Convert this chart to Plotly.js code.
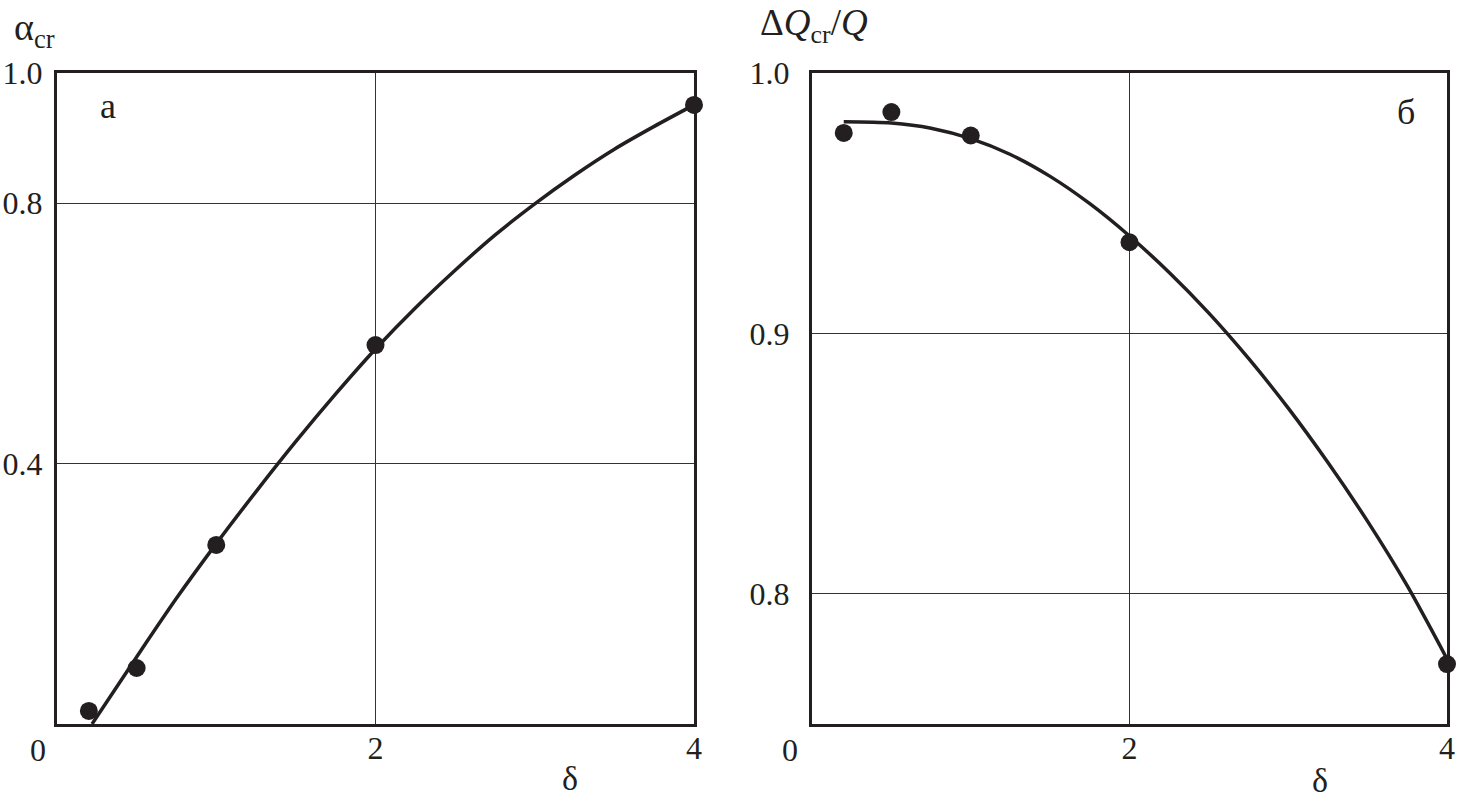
<!DOCTYPE html>
<html>
<head>
<meta charset="utf-8">
<script src="https://cdn.plot.ly/plotly-3.0.1.min.js"></script>
<style>html,body{margin:0;padding:0;background:#fff;}#chart{width:1457px;height:801px;}</style>
</head>
<body>
<div id="chart"></div>
<script>
// Measured points (δ, α_cr) and (δ, ΔQ_cr/Q)
const deltaPts = [0.2, 0.5, 1.0, 2.0, 4.0];
const alphaPts = [0.020, 0.086, 0.275, 0.582, 0.951];
const qPts = [0.977, 0.985, 0.976, 0.935, 0.773];

// Fitted curves
const alphaCurveX = [0.22, 0.5, 0.75, 1.0, 1.25, 1.5, 1.75, 2.0, 2.25, 2.5, 2.75, 3.0, 3.25, 3.5, 3.75, 4.0];
const alphaCurveY = [0.0, 0.103, 0.193, 0.277, 0.357, 0.434, 0.507, 0.576, 0.639, 0.697, 0.751, 0.799, 0.843, 0.883, 0.918, 0.951];
const qCurveX = [0.2, 0.5, 0.75, 1.0, 1.25, 1.5, 1.75, 2.0, 2.25, 2.5, 2.75, 3.0, 3.25, 3.5, 3.75, 4.0];
const qCurveY = [0.9813, 0.9808, 0.9788, 0.9748, 0.9687, 0.9603, 0.9498, 0.9374, 0.9234, 0.9078, 0.8904, 0.8713, 0.8504, 0.8278, 0.8030, 0.7750];

// Tick labels
const xTickVals = [2, 4];
const xTickText = ['2', '4'];
const leftYTickVals = [0.4, 0.8, 1.0];
const leftYTickText = ['0.4', '0.8', '1.0'];
const rightYTickVals = [0.8, 0.9, 1.0];
const rightYTickText = ['0.8', '0.9', '1.0'];

const INK = '#231f20';
const FONT = 'Liberation Serif, Times New Roman, serif';

const traces = [
  {x: alphaCurveX, y: alphaCurveY, xaxis: 'x', yaxis: 'y', mode: 'lines',
   line: {color: INK, width: 3.5, shape: 'spline', smoothing: 0.8}, hoverinfo: 'skip'},
  {x: deltaPts, y: alphaPts, xaxis: 'x', yaxis: 'y', mode: 'markers', cliponaxis: false,
   marker: {color: INK, size: 18}},
  {x: qCurveX, y: qCurveY, xaxis: 'x2', yaxis: 'y2', mode: 'lines',
   line: {color: INK, width: 3.5, shape: 'spline', smoothing: 0.8}, hoverinfo: 'skip'},
  {x: deltaPts, y: qPts, xaxis: 'x2', yaxis: 'y2', mode: 'markers', cliponaxis: false,
   marker: {color: INK, size: 18}}
];

const yDom = [77/801, 728/801];
const axCommon = {
  showline: true, mirror: true, linecolor: INK, linewidth: 3,
  showgrid: true, gridcolor: '#333', gridwidth: 1.3, zeroline: false,
  ticks: '', tickfont: {family: FONT, size: 32, color: INK}, fixedrange: true
};

const layout = {
  width: 1457, height: 801,
  margin: {l: 0, r: 0, t: 0, b: 0},
  paper_bgcolor: '#fff', plot_bgcolor: '#fff',
  showlegend: false,
  font: {family: FONT, color: INK},
  xaxis: Object.assign({}, axCommon, {domain: [57/1457, 694/1457], range: [0, 4],
    tickmode: 'array', tickvals: xTickVals, ticktext: xTickText, ticklabelstandoff: -6, anchor: 'y'}),
  yaxis: Object.assign({}, axCommon, {domain: yDom, range: [0, 1.0],
    tickmode: 'array', tickvals: leftYTickVals, ticktext: leftYTickText, ticklabelstandoff: 5, anchor: 'x'}),
  xaxis2: Object.assign({}, axCommon, {domain: [812/1457, 1447/1457], range: [0, 4],
    tickmode: 'array', tickvals: xTickVals, ticktext: xTickText, ticklabelstandoff: -6, anchor: 'y2'}),
  yaxis2: Object.assign({}, axCommon, {domain: yDom, range: [0.75, 1.0],
    tickmode: 'array', tickvals: rightYTickVals, ticktext: rightYTickText, ticklabelstandoff: 13, anchor: 'x2'}),
  annotations: [
    {xref: 'x domain', yref: 'y domain', x: 0, y: 0, xshift: -19, yshift: -26, yanchor: 'middle', xanchor: 'center',
     text: '0', showarrow: false, font: {family: FONT, size: 32, color: INK}},
    {xref: 'x2 domain', yref: 'y2 domain', x: 0, y: 0, xshift: -22, yshift: -26, yanchor: 'middle', xanchor: 'center',
     text: '0', showarrow: false, font: {family: FONT, size: 32, color: INK}},
    {xref: 'paper', yref: 'paper', x: 570/1457, y: 1 - 778/801, yanchor: 'middle', xanchor: 'center',
     text: 'δ', showarrow: false, font: {family: FONT, size: 34, color: INK}},
    {xref: 'paper', yref: 'paper', x: 1320/1457, y: 1 - 780/801, yanchor: 'middle', xanchor: 'center',
     text: 'δ', showarrow: false, font: {family: FONT, size: 34, color: INK}},
    {xref: 'paper', yref: 'paper', x: 12/1457, y: 1 - 30/801, xanchor: 'left', yanchor: 'middle',
     text: 'α<sub>cr</sub>', showarrow: false, font: {family: FONT, size: 38, color: INK}},
    {xref: 'paper', yref: 'paper', x: 758/1457, y: 1 - 26/801, xanchor: 'left', yanchor: 'middle',
     text: 'Δ<i>Q</i><sub>cr</sub>/<i>Q</i>', showarrow: false, font: {family: FONT, size: 37, color: INK}},
    {xref: 'paper', yref: 'paper', x: 108/1457, y: 1 - 106/801, xanchor: 'center', yanchor: 'middle',
     text: 'а', showarrow: false, font: {family: FONT, size: 36, color: INK}},
    {xref: 'paper', yref: 'paper', x: 1406/1457, y: 1 - 112/801, xanchor: 'center', yanchor: 'middle',
     text: 'б', showarrow: false, font: {family: FONT, size: 36, color: INK}}
  ]
};

Plotly.newPlot('chart', traces, layout, {staticPlot: true, displayModeBar: false});
</script>
</body>
</html>
